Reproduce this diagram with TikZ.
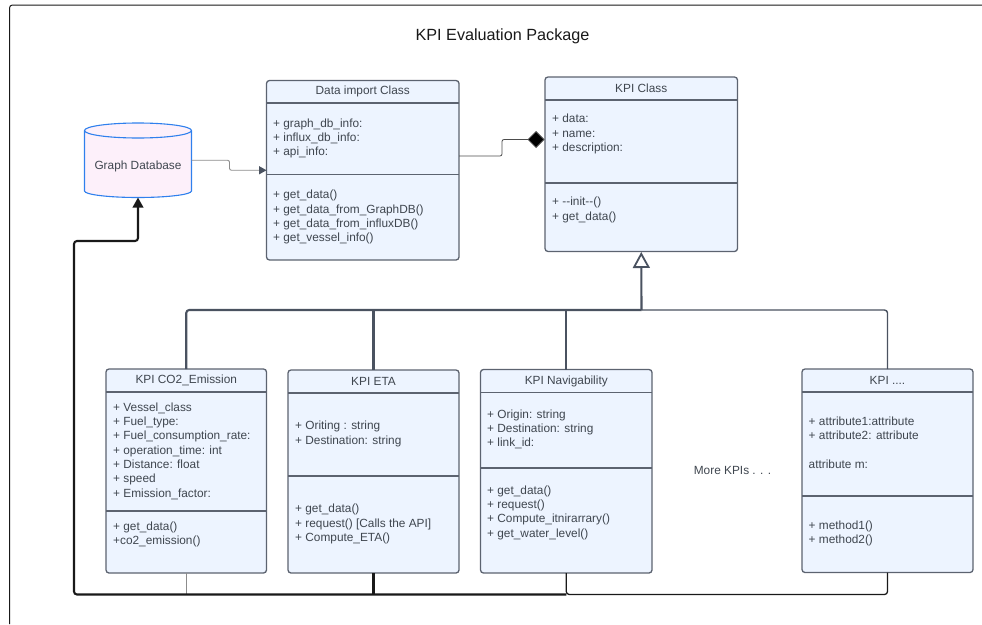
\documentclass[tikz,border=0pt]{standalone}
\usepackage{fontspec}
\setmainfont{Liberation Sans}
\usetikzlibrary{arrows.meta,calc}
\definecolor{boxedge}{HTML}{5C6370}
\definecolor{boxfill}{HTML}{EDF4FF}
\definecolor{txt}{HTML}{3F464F}
\definecolor{wire}{HTML}{4A5260}
\definecolor{dbedge}{HTML}{2F80ED}
\definecolor{dbfill}{HTML}{FDF0FA}
\tikzset{
  umlbox/.style={draw=boxedge,fill=boxfill,line width=1.3pt,rounded corners=3pt,inner sep=0pt,outer sep=0pt},
  rowline/.style={draw=boxedge,line width=1.2pt},
  head/.style={text=txt,font=\fontsize{11.85}{14.3}\selectfont,inner sep=0pt},
  rows/.style={text=txt,font=\fontsize{11.85}{14.3}\selectfont,inner sep=0pt,anchor=north west,align=left},
  thickwire/.style={draw=wire,line width=2.1pt,rounded corners=3pt},
  medwire/.style={draw=wire,line width=1.4pt,rounded corners=3pt},
  busthick/.style={draw=black!90,line width=2.1pt,rounded corners=3pt},
  busmed/.style={draw=black!90,line width=1.3pt,rounded corners=3pt},
  thinwire/.style={draw=black!50,line width=.8pt,rounded corners=2pt},
}
% name, x1, y1, x2, y2, header y, divider y, title
\newcommand{\umlcls}[8]{%
  \path let \n1={(#2+#4)/2}, \n2={(#3+#5)/2}, \n3={#4-#2}, \n4={#5-#3} in
    node[umlbox,minimum width=\n3,minimum height=\n4] (#1) at (\n1,\n2) {};
  \draw[rowline] (#2,#6) -- (#4,#6);
  \draw[rowline] (#2,#7) -- (#4,#7);
  \node[head] (#1title) at ($(#1.center) + (0,{(#3+#6)/2-(#3+#5)/2})$) {#8};
}
\newcommand{\fr}{\rule{0pt}{10pt}}
\begin{document}
\begin{tikzpicture}[x=1pt,y=-1pt]
\useasboundingbox (0,0) rectangle (982,624);
% frame
\coordinate (fa) at (9.5,624); \coordinate (fb) at (9.5,5); \coordinate (fc) at (982,5);
\draw[black!90,line width=1pt,rounded corners=3pt] (fa) -- (fb) -- (fc);
\node[font=\fontsize{16.2}{18}\selectfont,text=black!90,inner sep=0pt] (title) at (502.5,36.5) {KPI Evaluation Package};

\umlcls{data}{266.5}{80.5}{459}{260}{103}{174.5}{Data import Class}
\node[rows] (dataattr) at (273,117) {\fr + graph\_db\_info:\\+ influx\_db\_info:\\+ api\_info:};
\node[rows] (datameth) at (273,188.5) {\fr + get\_data()\\+ get\_data\_from\_GraphDB()\\+ get\_data\_from\_influxDB()\\+ get\_vessel\_info()};

\umlcls{kpi}{545}{77}{737.5}{251.5}{100}{183}{KPI Class}
\node[rows] (kpiattr) at (552,112.5) {\fr + data:\\+ name:\\+ description:};
\node[rows] (kpimeth) at (552,195.5) {\fr + {-}{-}init{-}{-}()\\+ get\_data()};

\umlcls{co}{106}{369}{266.5}{573}{392}{511}{KPI CO2\_Emission}
\node[rows] (coattr) at (113,401) {\fr + Vessel\_class\\+ Fuel\_type:\\+ Fuel\_consumption\_rate:\\+ operation\_time: int\\+ Distance: float\\+ speed\\+ Emission\_factor:};
\node[rows] (cometh) at (113,520) {\fr + get\_data()\\+co2\_emission()};

\umlcls{eta}{288}{370}{459}{573}{393}{476}{KPI ETA}
\node[rows] (etaattr) at (295,419.5) {\fr + Oriting : string\\+ Destination: string};
\node[rows] (etameth) at (295,502.5) {\fr + get\_data()\\+ request() [Calls the API]\\+ Compute\_ETA()};

\umlcls{nav}{480.5}{369.5}{652}{573}{392.5}{468}{KPI Navigability}
\node[rows] (navattr) at (487,408) {\fr + Origin: string\\+ Destination: string\\+ link\_id:};
\node[rows] (navmeth) at (487,484) {\fr + get\_data()\\+ request()\\+ Compute\_itnirarrary()\\+ get\_water\_level()};

\umlcls{more}{802}{369}{973}{572.5}{392}{496}{KPI ....}
\node[rows] (moreattr) at (808.5,415) {\fr + attribute1:attribute\\+ attribute2: attribute\\[14.3pt]attribute m:};
\node[rows] (moremeth) at (808.5,519) {\fr + method1()\\+ method2()};

\node[head] (morekpi) at (732.5,470) {More KPIs . . .};

% database
\node[minimum width=107pt,minimum height=74.5pt,inner sep=0pt,outer sep=0pt] (db) at (138,160.25) {};
\draw[dbedge,fill=dbfill,line width=1.1pt]
  (84.5,130.5) -- (84.5,191) arc[start angle=180,end angle=360,x radius=53.5,y radius=-6.5] -- (191.5,130.5)
  arc[start angle=0,end angle=180,x radius=53.5,y radius=-7.5] -- cycle;
\draw[dbedge,line width=1.1pt] (84.5,130.5) arc[start angle=180,end angle=360,x radius=53.5,y radius=-7.5];
\node[head] (dbtext) at (138,166.5) {Graph Database};

% import connectors
\coordinate (j1) at (229.5,160.25);
\coordinate (j2) at (229.5,170.25);
\draw[thinwire,draw=black!45,line width=.9pt] (db.east) -- (j1) -- (j2) -- ($(data.west)+(-7,0)$);
\draw[draw=none,fill=wire] (data.west) -- ++(-7.5,-4.2) -- ++(0,8.4) -- cycle;
\coordinate (c0) at (459,156);
\coordinate (c1) at (502,156);
\coordinate (c2) at (502,139.5);
\coordinate (c3) at (544.5,139.5);
\draw[draw=black!70,line width=.8pt,rounded corners=2pt,-{Diamond[length=17pt,width=17pt,fill=black]}] (c0) -- (c1) -- (c2) -- (c3);

% inheritance
\coordinate (in) at (641.5,310);
\coordinate (ic) at (186.25,310);
\coordinate (ie) at (373.5,310);
\coordinate (in2) at (566.25,310);
\coordinate (im) at (887.5,310);
\draw[medwire] (in) -- (im) -- (more.north);
\draw[thickwire] (in2) -- (nav.north);
\draw[thickwire] (ie) -- (eta.north);
\draw[thickwire] (in) -- (ic) -- (co.north);
\draw[draw=wire,line width=2.1pt,shorten >=0.5pt,-{Triangle[open,length=16pt,width=17pt,fill=white,line width=1.8pt]}] (in) -- (kpi.south);

% bus to database
\coordinate (bl) at (74,594.5);
\coordinate (bu) at (74,241);
\coordinate (bd) at (138,241);
\coordinate (b1) at (186.25,594.5);
\coordinate (b2) at (373.5,594.5);
\coordinate (b3) at (566.25,594.5);
\coordinate (b4) at (887.5,594.5);
\draw[thinwire,draw=black!45] (co.south) -- (b1);
\draw[busmed] (more.south) -- (b4) -- (b3) -- (nav.south);
\draw[busthick] (eta.south) -- (b2);
\draw[busthick,-{Triangle[length=10pt,width=10.5pt]}] (b3) -- (bl) -- (bu) -- (bd) -- (db.south);
\end{tikzpicture}
\end{document}
